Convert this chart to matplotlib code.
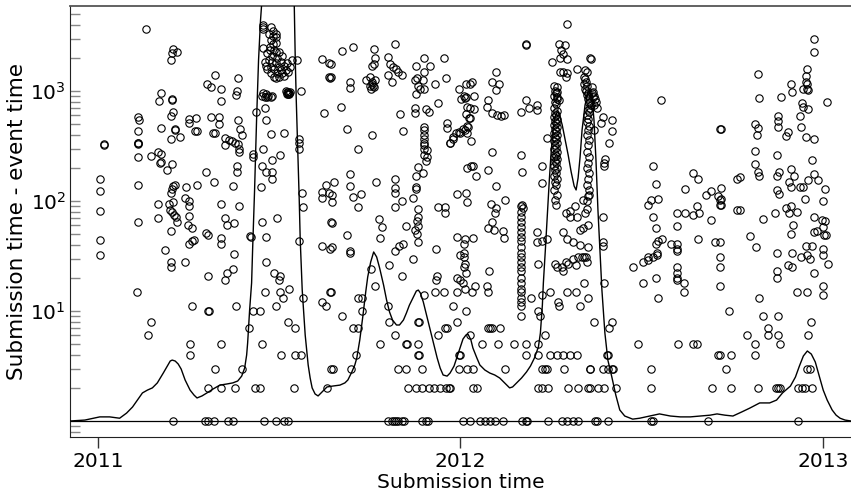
import matplotlib
matplotlib.use("Agg")
import matplotlib.pyplot as plt
from matplotlib.ticker import FixedLocator, NullFormatter

# x = days since 2011-01-01, y = submission time - event time (days)
year_ticks = [0, 365, 731]
year_labels = ["2011", "2012", "2013"]

early_2011 = [
    (6, 330), (6, 320), (2, 160), (2, 123), (2, 81), (2, 44), (2, 32),
    (41, 580), (42, 545), (41, 430), (41, 340), (41, 335), (41, 330), (41, 250),
    (41, 140), (41, 64), (40, 15), (49, 3700), (54, 255), (54, 8), (51, 6),
    (61, 280), (64, 265), (64, 225), (63, 220), (61, 94), (61, 70), (62, 810),
    (64, 960), (64, 460), (70, 190), (68, 36), (76, 2400), (75, 2200), (80, 2250),
    (74, 1900), (75, 840), (75, 820), (76, 640), (74, 590), (92, 560), (99, 570),
    (92, 510), (78, 450), (78, 445), (98, 430), (100, 430), (74, 370), (83, 380),
    (75, 215), (74, 118), (75, 128), (76, 137), (78, 140), (89, 135), (100, 140),
    (72, 94), (76, 98), (73, 83), (75, 79), (77, 74), (79, 71), (80, 64),
    (88, 106), (92, 100), (92, 90), (92, 73), (91, 61), (95, 57), (74, 53),
    (92, 41), (95, 43), (97, 44), (74, 28), (74, 25), (88, 28), (95, 11),
    (93, 5), (93, 4), (76, 1),
]

spring_2011 = [
    (118, 1400), (110, 1150), (114, 1080), (124, 1040), (141, 1300), (140, 1000),
    (139, 920), (124, 810), (114, 580), (122, 580), (122, 500), (141, 545),
    (143, 450), (145, 400), (116, 415), (118, 415), (128, 375), (132, 355),
    (128, 320), (135, 350), (138, 340), (141, 330), (142, 295), (142, 280),
    (156, 270), (156, 250), (109, 185), (117, 150), (140, 210), (140, 185),
    (136, 136), (124, 94), (142, 90), (128, 70), (130, 61), (137, 63), (109, 51),
    (111, 49), (124, 46), (124, 41), (137, 33), (136, 24), (130, 22), (128, 19),
    (111, 21), (139, 11), (111, 10), (112, 10), (124, 5), (118, 3), (111, 2),
    (124, 2), (138, 2), (158, 2), (163, 2), (198, 2), (156, 10), (163, 10),
    (152, 7), (165, 5), (145, 3), (185, 4), (199, 4), (205, 4), (235, 3), (231, 2),
    (108, 1), (111, 1), (117, 1), (131, 1), (136, 1), (167, 1), (180, 1),
    (188, 1), (192, 1),
]

june_2011 = [
    (166, 4000), (166, 3800), (166, 3700), (175, 3800), (177, 3500), (180, 3300),
    (180, 3100), (166, 2450), (196, 1900), (201, 1900), (191, 980), (193, 960),
    (190, 1000), (192, 940), (165, 900), (168, 880), (171, 890), (176, 900),
    (205, 1000), (159, 650), (168, 700), (170, 540), (175, 410), (188, 415),
    (203, 365), (203, 340), (203, 300), (166, 300), (184, 260), (176, 235),
    (165, 210), (170, 185), (176, 185), (176, 160), (164, 135), (206, 118),
    (207, 88), (165, 64), (181, 70), (170, 47), (203, 43), (153, 48), (154, 47),
    (170, 28), (178, 22), (184, 21), (183, 19), (193, 16), (168, 15), (184, 15),
    (187, 13), (180, 11), (207, 13), (192, 8), (199, 7),
    (173, 3300), (175, 2900), (177, 2700), (174, 2500), (178, 2350), (180, 2250),
    (171, 2200), (176, 2100), (183, 2250), (186, 2100), (173, 1900), (176, 1850),
    (180, 1800), (170, 1700), (175, 1650), (178, 1600), (183, 1650), (188, 1700),
    (191, 1800), (194, 1650), (185, 1550), (190, 1550), (181, 1450), (186, 1450),
    (192, 1500), (183, 1350), (188, 1370), (178, 1350), (180, 1300), (175, 1450),
    (171, 1580), (168, 1850), (185, 1850), (181, 2000), (177, 3150), (180, 2750),
    (174, 2350), (192, 980), (194, 980), (191, 940), (193, 940), (166, 950),
    (170, 930), (172, 900), (175, 880),
    (226, 1950), (233, 1800), (233, 1350), (234, 1300), (228, 630), (230, 140),
    (226, 120), (226, 107), (233, 118), (235, 64), (226, 39), (234, 37), (234, 15),
    (226, 12), (230, 11),
]

autumn_2011 = [
    (246, 2300), (257, 2500), (278, 2400), (279, 2000), (278, 1750), (276, 1700),
    (300, 2650), (292, 2050), (294, 1750), (297, 1650), (301, 1580), (303, 1480),
    (307, 1400), (292, 1400), (296, 1200), (274, 1350), (276, 1200), (279, 1250),
    (277, 1100), (275, 1050), (270, 1250), (276, 1150), (278, 1080), (274, 1120),
    (321, 1700), (320, 1260), (322, 1300), (323, 1100), (325, 1040), (321, 935),
    (329, 2000), (335, 1700), (329, 1480), (328, 1260), (349, 2000), (351, 1300),
    (340, 1150), (343, 780), (329, 1040), (254, 1200), (254, 1060), (235, 1750),
    (235, 1350), (364, 1040), (245, 720), (305, 620), (320, 700), (320, 630),
    (331, 680), (334, 640), (251, 450), (276, 400), (308, 430), (262, 300),
    (329, 470), (329, 440), (329, 400), (329, 370), (329, 340), (329, 320),
    (329, 300), (332, 290), (329, 260), (332, 250), (331, 230), (323, 205),
    (321, 170), (328, 180), (352, 510), (352, 460), (355, 335), (358, 380),
    (361, 415), (364, 425), (238, 150), (236, 113), (236, 98), (236, 63),
    (236, 38), (254, 175), (254, 137), (257, 108), (265, 115), (262, 88),
    (280, 150), (299, 160), (300, 130), (300, 118), (300, 88), (307, 100),
    (321, 135), (321, 128), (318, 106), (323, 85), (323, 72), (322, 66), (323, 59),
    (320, 55), (322, 50), (323, 42), (311, 59), (283, 68), (286, 58), (284, 46),
    (251, 49), (254, 35), (254, 34), (299, 35), (304, 39), (308, 41), (343, 88),
    (350, 88), (350, 78), (362, 115), (341, 37), (362, 47), (365, 32), (318, 30),
    (293, 26), (275, 24), (279, 17), (307, 21), (342, 21), (341, 19), (362, 20),
    (365, 19), (235, 15), (262, 13), (266, 13), (329, 14), (340, 15), (349, 15),
    (362, 15), (266, 10), (292, 11), (358, 11), (246, 9), (257, 7), (262, 7),
    (293, 8), (323, 8), (324, 8), (350, 7), (352, 7), (343, 6), (362, 8),
    (260, 4), (284, 5), (300, 6), (311, 5), (312, 5), (323, 5), (323, 4),
    (324, 4), (364, 4), (237, 3), (255, 3), (303, 3), (311, 3), (327, 3),
    (364, 3), (313, 2), (321, 2), (327, 2), (334, 2), (339, 2), (345, 2),
    (351, 2), (354, 2), (355, 2), (292, 1), (296, 1), (298, 1), (301, 1),
    (303, 1), (307, 1), (309, 1), (327, 1), (331, 1), (333, 1),
]

early_2012 = [
    (473, 4100), (431, 2700), (431, 2600), (465, 2650), (471, 2600), (467, 2350),
    (469, 2150), (466, 2000), (473, 1950), (458, 1850), (466, 1500), (469, 1480),
    (473, 1450), (483, 1580), (491, 1550), (493, 1500), (496, 2000), (472, 1350),
    (463, 1080), (463, 980), (463, 880), (465, 820),
    (371, 1150), (375, 1170), (377, 1200), (371, 880), (379, 900), (369, 900),
    (370, 870), (366, 850), (372, 720), (375, 700), (379, 680), (371, 620),
    (374, 570), (373, 470), (370, 440), (372, 415), (376, 350), (355, 335),
    (358, 365), (365, 415), (368, 450), (372, 480), (375, 570),
    (401, 1480), (397, 1200), (404, 1170), (401, 1020), (393, 820), (392, 720),
    (397, 630), (402, 600), (406, 590), (409, 600), (426, 640), (432, 830),
    (435, 700), (443, 740), (443, 670), (453, 375), (397, 280), (426, 260),
    (427, 185), (448, 210), (448, 147), (372, 200), (376, 210), (378, 210),
    (381, 170), (393, 190), (401, 138), (371, 118), (372, 98), (396, 94),
    (401, 86), (400, 78), (410, 102), (397, 64), (393, 57), (399, 54), (408, 53),
    (409, 46),
    (426, 90), (426, 79), (426, 71), (426, 64), (426, 58), (426, 52), (426, 47),
    (426, 43), (426, 38), (426, 34), (426, 31), (426, 28), (426, 25), (426, 23),
    (426, 20), (426, 18), (426, 16), (426, 15), (426, 13), (426, 12), (426, 11),
    (426, 9), (427, 92), (428, 87),
    (370, 45), (369, 41), (369, 34), (369, 31), (370, 27), (369, 25), (371, 22),
    (368, 18), (370, 16), (378, 46), (377, 15), (380, 17), (371, 10), (394, 23),
    (392, 17), (393, 15), (443, 52), (443, 42), (448, 43), (453, 45), (444, 27),
    (437, 13), (448, 14), (444, 10), (446, 9), (456, 15), (464, 12), (465, 11),
    (451, 6), (387, 5), (403, 5), (419, 5), (432, 5), (444, 5), (393, 7),
    (395, 7), (397, 7), (405, 7), (375, 6), (365, 4), (432, 4), (444, 4),
    (456, 4), (463, 4), (469, 4), (476, 4), (483, 4), (372, 3), (378, 3),
    (410, 3), (448, 3), (451, 3), (453, 3), (470, 3), (496, 3), (378, 2),
    (382, 2), (444, 2), (448, 2), (454, 2), (474, 2), (484, 2), (494, 2),
    (496, 2), (368, 1), (375, 1), (385, 1), (390, 1), (395, 1), (400, 1),
    (408, 1), (427, 1), (432, 1), (433, 1), (454, 1), (468, 1), (473, 1),
    (479, 1), (484, 1),
]

april_2012 = [
    (460, 1100), (461, 1000), (462, 950), (460, 900), (463, 850), (461, 800),
    (462, 760), (460, 700), (463, 660), (461, 630), (462, 600), (460, 580),
    (463, 560), (461, 530), (462, 510), (460, 490), (463, 470), (461, 450),
    (462, 430), (460, 415), (463, 400), (461, 380), (462, 365), (460, 350),
    (463, 335), (461, 320), (462, 305), (460, 295), (463, 280), (461, 270),
    (462, 258), (460, 250), (463, 240), (461, 230), (462, 220), (460, 210),
    (463, 200), (461, 190), (462, 180), (460, 170), (463, 160), (461, 150),
    (462, 140), (460, 126), (463, 113), (461, 102), (462, 92),
    (461, 27), (463, 25), (468, 25), (472, 28), (469, 23), (474, 27), (479, 30),
    (484, 31), (482, 26), (488, 31), (490, 31), (493, 28), (492, 31), (479, 42),
    (486, 40), (473, 45), (469, 52), (483, 72), (486, 54), (489, 57), (491, 78),
    (473, 15), (482, 15), (490, 18), (486, 11), (494, 13), (472, 78), (476, 81),
    (481, 90), (476, 72), (489, 102), (493, 85), (495, 113), (494, 60), (494, 38),
]

may_2012 = [
    (490, 1350), (491, 1280), (492, 1220), (490, 1150), (493, 1100), (491, 1050),
    (492, 1000), (494, 960), (493, 920), (495, 880), (494, 840), (496, 800),
    (495, 770), (497, 740), (496, 700), (494, 670), (495, 640), (493, 600),
    (494, 560), (493, 520), (495, 480), (494, 440), (493, 400), (495, 360),
    (494, 320), (493, 280), (495, 250), (494, 220), (493, 200), (495, 180),
    (494, 160), (493, 140), (495, 125), (494, 110), (493, 100),
    (497, 1950), (498, 1080), (499, 980), (500, 900), (501, 850), (502, 800),
    (500, 750), (503, 700), (498, 950), (499, 880), (509, 580), (518, 540),
    (507, 510), (518, 430), (515, 340), (511, 240), (510, 220), (510, 210),
    (500, 440), (500, 8), (518, 8), (515, 7), (509, 72), (509, 42), (509, 39),
    (510, 18), (513, 4), (514, 4), (496, 3), (509, 3), (514, 3), (518, 3),
    (519, 3), (504, 2), (510, 2), (522, 2), (501, 1), (503, 1), (514, 1),
]

late_2012 = [
    (568, 820), (627, 450), (559, 210), (563, 143), (557, 102), (565, 104),
    (554, 92), (559, 72), (563, 57), (569, 45), (565, 43), (563, 41), (578, 41),
    (584, 41), (584, 37), (584, 35), (605, 45), (584, 78), (592, 78), (584, 59),
    (600, 180), (605, 160), (592, 128), (604, 90), (600, 75), (606, 78),
    (613, 113), (618, 123), (625, 111), (627, 102), (627, 92), (618, 67),
    (622, 42), (627, 42), (539, 25), (549, 28), (554, 29), (554, 31), (559, 31),
    (564, 32), (564, 34), (549, 18), (562, 20), (565, 13), (584, 25), (584, 22),
    (584, 20), (584, 19), (591, 18), (591, 15), (627, 31), (627, 25), (627, 17),
    (544, 5), (585, 5), (600, 5), (604, 5), (625, 4), (557, 3), (557, 2),
    (619, 2), (557, 1), (559, 1), (615, 1),
    (722, 2950), (722, 2270), (665, 1430), (715, 1580), (714, 1370), (714, 1200),
    (715, 1170), (715, 1040), (716, 1020), (711, 1040), (699, 1150), (700, 980),
    (688, 890), (666, 860), (735, 790), (710, 770), (711, 720), (716, 680),
    (708, 590), (685, 590), (685, 530), (685, 470), (662, 500), (665, 460),
    (664, 400), (696, 420), (694, 390), (709, 470), (714, 380), (722, 365),
    (628, 450), (662, 285), (684, 260), (720, 235), (662, 215), (665, 185),
    (666, 168), (684, 168), (686, 185), (699, 195), (702, 170), (722, 175),
    (726, 155), (716, 155), (644, 160), (647, 165), (628, 130), (628, 105),
    (628, 92), (684, 125), (686, 115), (697, 150), (699, 135), (708, 135),
    (711, 135), (713, 105), (733, 128), (731, 100), (644, 83), (647, 83),
    (670, 68), (682, 78), (694, 86), (697, 78), (699, 90), (705, 80), (701, 60),
    (699, 50), (722, 72), (730, 67), (733, 66), (731, 58), (732, 49), (734, 49),
    (725, 53), (722, 52), (657, 48), (663, 38), (684, 34), (700, 34), (714, 39),
    (720, 39), (709, 31), (715, 32), (718, 30), (731, 37), (731, 32), (736, 27),
    (696, 26), (700, 25), (684, 23), (684, 20), (722, 22), (705, 15), (715, 15),
    (731, 17), (731, 14), (666, 13), (636, 10), (670, 9), (685, 9), (675, 7),
    (719, 8), (654, 6), (675, 6), (685, 6), (687, 5), (716, 6), (662, 5),
    (627, 4), (638, 4), (662, 4), (633, 3), (715, 3), (718, 3), (638, 2),
    (665, 2), (683, 2), (685, 2), (687, 2), (706, 2), (710, 2), (713, 2),
    (720, 2), (706, 1),
]

# smoothed submission density, drawn on the same axes
density_day = [
    -28, -13, 2, 12, 22, 29, 35, 40, 45, 50, 55, 60, 66, 70, 73, 75, 78, 81, 84,
    88, 91, 93, 97, 100, 105, 110, 116, 123, 130, 136, 141, 145, 148, 150, 151,
    153, 155, 156, 158, 160, 162, 164, 165, 167, 181, 196, 198, 199, 200, 201,
    203, 204, 206, 209, 212, 214, 216, 219, 222, 226, 231, 237, 244, 249, 252,
    256, 259, 261, 264, 267, 270, 272, 275, 278, 281, 284, 288, 291, 294, 297,
    301, 304, 308, 311, 314, 318, 321, 323, 325, 328, 331, 335, 339, 342, 345,
    348, 352, 355, 359, 362, 365, 368, 371, 373, 376, 378, 382, 385, 390, 395,
    400, 405, 410, 415, 418, 422, 427, 432, 436, 440, 444, 446, 448, 449, 451,
    453, 455, 457, 459, 461, 463, 465, 468, 471, 474, 477, 480, 482, 484, 486,
    488, 491, 494, 496, 498, 500, 502, 504, 506, 508, 511, 514, 518, 522, 526,
    531, 539, 546, 556, 566, 577, 587, 597, 607, 617, 624, 632, 640, 649, 657,
    667, 677, 684, 690, 698, 703, 707, 711, 715, 719, 723, 727, 731, 735, 740,
    744, 748, 753, 759,
]
density_val = [
    1.0, 1.02, 1.09, 1.09, 1.06, 1.18, 1.34, 1.55, 1.80, 1.91, 2.0, 2.22, 2.73,
    3.16, 3.51, 3.58, 3.51, 3.30, 2.97, 2.36, 2.08, 1.91, 1.72, 1.62, 1.69, 1.80,
    1.95, 2.12, 2.17, 2.22, 2.31, 2.56, 3.03, 3.98, 5.12, 10.2, 18.0, 35.9, 126,
    545, 1914, 4420, 5930, 15500, 1.26e6, 23600, 5930, 1914, 828, 415, 102, 44.2,
    15.5, 6.05, 3.23, 2.46, 2.0, 1.76, 1.69, 1.84, 2.04, 2.08, 2.12, 2.22, 2.36,
    2.79, 3.23, 3.74, 5.45, 8.82, 14.9, 20.4, 27.9, 34.4, 31.0, 24.6, 17.2, 12.6,
    9.79, 8.28, 7.46, 7.46, 8.28, 9.59, 11.3, 13.4, 15.2, 15.5, 14.6, 12.1, 9.39,
    6.72, 4.81, 3.74, 3.03, 2.62, 2.56, 2.73, 3.16, 3.82, 4.61, 5.56, 6.05, 6.18,
    5.45, 4.61, 3.74, 3.23, 2.91, 2.73, 2.62, 2.46, 2.22, 2.0, 2.04, 2.22, 2.46,
    2.79, 3.16, 3.74, 4.71, 6.31, 11.3, 18.0, 35.9, 74.6, 155, 291, 461, 593,
    644, 618, 491, 359, 262, 184, 137, 126, 162, 251, 442, 746, 979, 1021, 901,
    545, 236, 82.8, 35.9, 15.5, 6.31, 3.58, 2.51, 1.72, 1.26, 1.11, 1.04, 1.06,
    1.11, 1.16, 1.11, 1.09, 1.09, 1.11, 1.13, 1.16, 1.13, 1.11, 1.21, 1.31, 1.46,
    1.46, 1.55, 1.80, 2.08, 2.51, 3.16, 3.90, 4.33, 4.06, 3.44, 2.56, 1.91, 1.55,
    1.26, 1.13, 1.06, 1.02, 1.0,
]

points = early_2011 + spring_2011 + june_2011 + autumn_2011 + early_2012 + \
    april_2012 + may_2012 + late_2012
xs = [p[0] for p in points]
ys = [p[1] for p in points]

fig = plt.figure(figsize=(8.51, 4.93), dpi=100)
ax = fig.add_axes([70 / 851, 56 / 493, 781 / 851, 431 / 493])

ax.set_yscale("log")
ax.axhline(1, color="black", lw=0.9, zorder=2)
ax.plot(density_day, density_val, color="black", lw=1.0, zorder=3)
ax.plot(xs, ys, "o", ls="none", ms=5.3, mfc="none", mec="black", mew=0.8, zorder=4)

ax.set_xlim(-28, 759)
ax.set_ylim(0.7155, 5927)

ax.xaxis.set_major_locator(FixedLocator(year_ticks))
ax.set_xticklabels(year_labels)
ax.yaxis.set_major_locator(FixedLocator([10, 100, 1000]))
minors = [0.8, 0.9] + [m * d for d in (1, 10, 100) for m in range(2, 10)] + [2000, 3000, 4000, 5000]
ax.yaxis.set_minor_locator(FixedLocator(minors))
ax.yaxis.set_minor_formatter(NullFormatter())

ax.tick_params(axis="y", which="both", direction="in", length=7, width=1,
               color="#888888", labelsize=14.5, pad=3)
ax.tick_params(axis="x", which="major", direction="out", length=8, width=1,
               color="#333333", labelsize=14.5, pad=3)
ax.tick_params(axis="x", which="minor", bottom=False)

ax.spines["right"].set_visible(False)
ax.spines["top"].set_color("#555555")
ax.spines["top"].set_linewidth(1.3)
ax.spines["left"].set_color("#222222")
ax.spines["bottom"].set_color("#222222")

ax.set_xlabel("Submission time", fontsize=14.5, labelpad=1)
ax.set_ylabel("Submission time - event time", fontsize=15.5, labelpad=2)

fig.savefig("out.png", dpi=100)
